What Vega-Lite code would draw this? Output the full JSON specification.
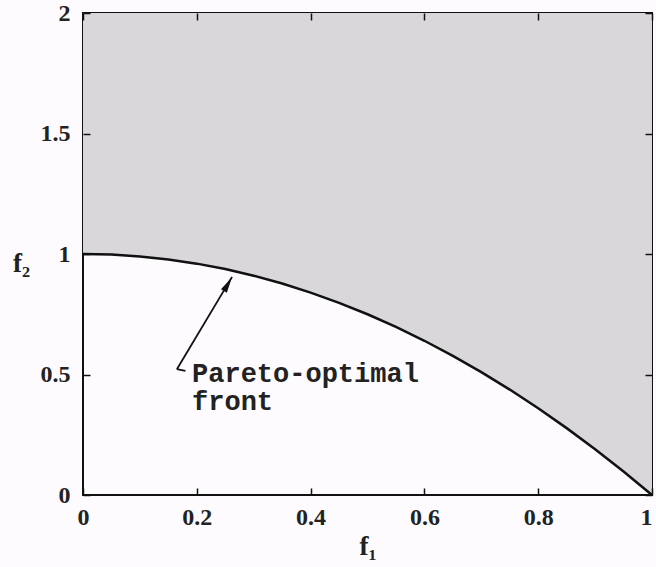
{
  "$schema": "https://vega.github.io/schema/vega-lite/v6.json",
  "width": 569,
  "height": 482,
  "autosize": "none",
  "padding": {"left": 83, "top": 13, "right": 4, "bottom": 72},
  "background": "#fdfbfd",
  "config": {
    "view": {"stroke": "#111", "strokeWidth": 2},
    "axis": {
      "grid": false,
      "domain": false,
      "labelFlush": false,
      "labelFont": "Liberation Serif",
      "labelFontWeight": "bold",
      "labelFontSize": 24,
      "labelColor": "#222",
      "titleFont": "Liberation Serif",
      "titleFontWeight": "bold",
      "titleFontSize": 27,
      "titleColor": "#222"
    }
  },
  "datasets": {
    "front": [
      {"f1": 0.0, "f2": 1.0},
      {"f1": 0.05, "f2": 0.9975},
      {"f1": 0.1, "f2": 0.99},
      {"f1": 0.15, "f2": 0.9775},
      {"f1": 0.2, "f2": 0.96},
      {"f1": 0.25, "f2": 0.9375},
      {"f1": 0.3, "f2": 0.91},
      {"f1": 0.35, "f2": 0.8775},
      {"f1": 0.4, "f2": 0.84},
      {"f1": 0.45, "f2": 0.7975},
      {"f1": 0.5, "f2": 0.75},
      {"f1": 0.55, "f2": 0.6975},
      {"f1": 0.6, "f2": 0.64},
      {"f1": 0.65, "f2": 0.5775},
      {"f1": 0.7, "f2": 0.51},
      {"f1": 0.75, "f2": 0.4375},
      {"f1": 0.8, "f2": 0.36},
      {"f1": 0.85, "f2": 0.2775},
      {"f1": 0.9, "f2": 0.19},
      {"f1": 0.95, "f2": 0.0975},
      {"f1": 1.0, "f2": 0.0}
    ],
    "arrow": [
      {"x": 0.165, "y": 0.522, "x2": 0.262, "y2": 0.905},
      {"x": 0.165, "y": 0.522, "x2": 0.18, "y2": 0.515}
    ],
    "head": [{"x": 0.262, "y": 0.905}],
    "note": [{"x": 0.1916, "y": 0.469, "label": "Pareto-optimal\nfront"}]
  },
  "layer": [
    {
      "data": {"name": "front"},
      "mark": {"type": "area", "color": "#d9d7da", "opacity": 1},
      "encoding": {
        "x": {
          "field": "f1", "type": "quantitative",
          "scale": {"domain": [0, 1], "nice": false},
          "axis": {"orient": "bottom", "values": [0, 0.2, 0.4, 0.6, 0.8, 1], "format": "~g",
                   "ticks": true, "tickSize": 7, "tickColor": "#111", "tickWidth": 1.5,
                   "offset": -7, "zindex": 1,
                   "labelAlign": {"expr": "datum.value == 1 ? 'right' : 'center'"},
                   "labelPadding": 10, "title": "f₁", "titlePadding": 4}
        },
        "y": {
          "field": "f2", "type": "quantitative",
          "scale": {"domain": [0, 2], "nice": false},
          "axis": {"orient": "left", "values": [0, 0.5, 1, 1.5, 2], "format": "~g",
                   "ticks": true, "tickSize": 7, "tickColor": "#111", "tickWidth": 1.5,
                   "offset": -7, "zindex": 1,
                   "labelPadding": 13, "title": "f₂", "titleAngle": 0,
                   "titleX": -69, "titleY": 250, "titleAlign": "center", "titleBaseline": "middle"}
        },
        "y2": {"datum": 2}
      }
    },
    {
      "data": {"name": "front"},
      "mark": {"type": "line", "color": "#111", "strokeWidth": 2.5},
      "encoding": {
        "x": {"field": "f1", "type": "quantitative",
              "axis": {"orient": "top", "values": [0, 0.2, 0.4, 0.6, 0.8, 1], "labels": false, "title": null,
                       "ticks": true, "tickSize": 7, "tickColor": "#111", "tickWidth": 1.5,
                       "offset": -7, "zindex": 1}},
        "y": {"field": "f2", "type": "quantitative",
              "axis": {"orient": "right", "values": [0, 0.5, 1, 1.5, 2], "labels": false, "title": null,
                       "ticks": true, "tickSize": 7, "tickColor": "#111", "tickWidth": 1.5,
                       "offset": -7, "zindex": 1}}
      }
    },
    {
      "data": {"name": "arrow"},
      "mark": {"type": "rule", "color": "#111", "strokeWidth": 1.8},
      "encoding": {
        "x": {"field": "x", "type": "quantitative", "axis": null},
        "y": {"field": "y", "type": "quantitative", "axis": null},
        "x2": {"field": "x2"},
        "y2": {"field": "y2"}
      }
    },
    {
      "data": {"name": "head"},
      "mark": {"type": "point", "shape": "M0,0L-0.45,2.2L0.45,2.2Z", "filled": true,
               "color": "#111", "opacity": 1, "size": 220, "angle": 30},
      "encoding": {
        "x": {"field": "x", "type": "quantitative", "axis": null},
        "y": {"field": "y", "type": "quantitative", "axis": null}
      }
    },
    {
      "data": {"name": "note"},
      "mark": {"type": "text", "align": "left", "baseline": "alphabetic", "lineBreak": "\n",
               "lineHeight": 28, "font": "Liberation Mono", "fontWeight": "bold",
               "fontSize": 27, "color": "#222"},
      "encoding": {
        "x": {"field": "x", "type": "quantitative", "axis": null},
        "y": {"field": "y", "type": "quantitative", "axis": null},
        "text": {"field": "label"}
      }
    }
  ],
  "resolve": {"axis": {"x": "independent", "y": "independent"}}
}
